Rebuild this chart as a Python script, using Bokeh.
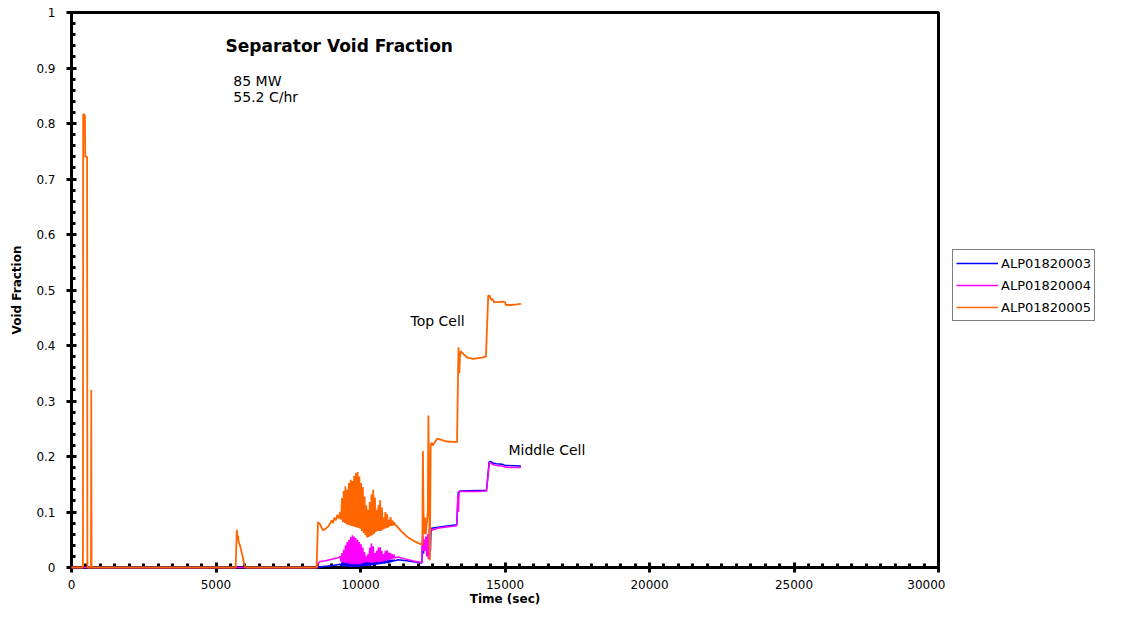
from bokeh.plotting import figure
from bokeh.layouts import row
from bokeh.models import (Range1d, SingleIntervalTicker, NumeralTickFormatter,
                          Legend, LegendItem, Label)
from bokeh.embed import file_html
from bokeh.resources import INLINE

# ---------------- data ----------------
series_names = ["ALP01820003", "ALP01820004", "ALP01820005"]
series_colors = ["#0000FF", "#FF00FF", "#FF6600"]

# shared oscillation time samples (sec)
t_osc = [9300, 9330, 9360, 9390, 9420, 9450, 9480, 9510, 9540, 9570,
         9600, 9630, 9660, 9690, 9720, 9750, 9780, 9810, 9840, 9870,
         9900, 9930, 9960, 9990, 10020, 10050, 10080, 10110, 10140, 10170,
         10200, 10230, 10260, 10290, 10320, 10350, 10380, 10410, 10440, 10470,
         10500, 10530, 10560, 10590, 10620, 10650, 10680, 10710, 10740, 10770,
         10800, 10830, 10860, 10890, 10920, 10950, 10980, 11010, 11040, 11070,
         11100, 11130, 11160, 11190]

# ALP01820005 (top cell)
orange_pre_t = [0, 395, 405, 465, 475, 540, 550, 675, 685, 695, 5680, 5720, 5740,
                5760, 5790, 5830, 5900, 5980, 6020, 8480, 8530, 8600, 8700, 8800,
                8900, 9000, 9050, 9100, 9150, 9200, 9250]
orange_pre_v = [0, 0, 0.817, 0.815, 0.74, 0.74, 0, 0, 0.32, 0, 0, 0.068, 0.05,
                0.058, 0.045, 0.04, 0.025, 0.005, 0, 0, 0.082, 0.078, 0.067, 0.07,
                0.075, 0.085, 0.08, 0.09, 0.085, 0.095, 0.088]
orange_osc = [0.100, 0.086, 0.125, 0.082, 0.138, 0.080, 0.146, 0.078, 0.140, 0.077,
              0.152, 0.076, 0.158, 0.075, 0.156, 0.074, 0.165, 0.073, 0.170, 0.072,
              0.172, 0.071, 0.164, 0.070, 0.152, 0.066, 0.145, 0.062, 0.128, 0.058,
              0.112, 0.054, 0.104, 0.055, 0.118, 0.057, 0.132, 0.058, 0.140, 0.061,
              0.126, 0.064, 0.104, 0.066, 0.112, 0.066, 0.121, 0.066, 0.108, 0.068,
              0.090, 0.070, 0.100, 0.071, 0.096, 0.072, 0.086, 0.074, 0.091, 0.075,
              0.085, 0.076, 0.082, 0.077]
orange_post_t = [11250, 11400, 11600, 11800, 12000, 12140, 12160, 12180, 12200, 12230,
                 12260, 12330, 12350, 12380, 12400, 12430, 12460, 12500, 12650, 12800,
                 13000, 13340, 13390, 13420, 13440, 13470, 13550, 13700, 13900, 14200,
                 14340, 14420, 14470, 14520, 14560, 14620, 14750, 14900, 15000, 15030,
                 15200, 15400, 15550]
orange_post_v = [0.075, 0.066, 0.056, 0.049, 0.044, 0.041, 0.21, 0.10, 0.06, 0.09,
                 0.06, 0.10, 0.274, 0.10, 0.013, 0.22, 0.225, 0.22, 0.232, 0.23,
                 0.227, 0.226, 0.397, 0.35, 0.38, 0.39, 0.385, 0.378, 0.376, 0.378,
                 0.38, 0.49, 0.49, 0.482, 0.484, 0.478, 0.478, 0.479, 0.478, 0.473,
                 0.473, 0.474, 0.475]

# ALP01820004 (middle cell)
magenta_pre_t = [0, 8500, 8550, 8600, 8800, 9000, 9200]
magenta_pre_v = [0, 0, 0.008, 0.011, 0.012, 0.015, 0.017]
magenta_osc = [0.020, 0.010, 0.026, 0.009, 0.032, 0.008, 0.040, 0.008, 0.046, 0.007,
               0.050, 0.007, 0.055, 0.006, 0.058, 0.006, 0.056, 0.006, 0.053, 0.006,
               0.050, 0.006, 0.046, 0.006, 0.042, 0.007, 0.036, 0.008, 0.028, 0.009,
               0.020, 0.010, 0.024, 0.009, 0.036, 0.008, 0.043, 0.008, 0.038, 0.009,
               0.026, 0.010, 0.030, 0.009, 0.036, 0.009, 0.037, 0.010, 0.030, 0.011,
               0.024, 0.012, 0.030, 0.012, 0.031, 0.013, 0.027, 0.014, 0.026, 0.015,
               0.024, 0.016, 0.023, 0.017]
magenta_post_t = [11300, 11500, 11800, 12000, 12120, 12140, 12160, 12180, 12200, 12230,
                  12260, 12290, 12320, 12350, 12380, 12400, 12420, 12450, 12500, 12700,
                  13000, 13330, 13370, 13390, 13410, 13450, 14000, 14360, 14460, 14520,
                  14600, 14700, 14900, 15000, 15200, 15550]
magenta_post_v = [0.019, 0.016, 0.012, 0.010, 0.009, 0.05, 0.06, 0.03, 0.05, 0.03,
                  0.056, 0.02, 0.06, 0.015, 0.07, 0.02, 0.073, 0.066, 0.068, 0.071,
                  0.073, 0.075, 0.13, 0.10, 0.136, 0.137, 0.137, 0.138, 0.189, 0.188,
                  0.185, 0.184, 0.183, 0.181, 0.180, 0.180]

# ALP01820003
blue_pre_t = [0, 8600, 8700, 9000, 9200]
blue_pre_v = [0, 0, 0.002, 0.003, 0.005]
blue_osc = [0.006, 0.002, 0.009, 0.002, 0.011, 0.002, 0.013, 0.002, 0.015, 0.001,
            0.017, 0.001, 0.019, 0.001, 0.020, 0.001, 0.020, 0.001, 0.019, 0.001,
            0.018, 0.001, 0.017, 0.001, 0.016, 0.002, 0.014, 0.002, 0.012, 0.003,
            0.010, 0.003, 0.014, 0.003, 0.020, 0.003, 0.024, 0.004, 0.020, 0.004,
            0.014, 0.005, 0.016, 0.005, 0.019, 0.006, 0.018, 0.006, 0.015, 0.007,
            0.013, 0.007, 0.016, 0.008, 0.016, 0.008, 0.014, 0.009, 0.014, 0.010,
            0.014, 0.011, 0.014, 0.012]
blue_post_t = [11300, 11600, 12000, 12120, 12150, 12180, 12210, 12250, 12300, 12340,
               12380, 12420, 12440, 12500, 13000, 13330, 13380, 13450, 14360, 14450,
               14500, 14600, 14700, 14900, 15000, 15550]
blue_post_v = [0.014, 0.012, 0.009, 0.008, 0.045, 0.025, 0.05, 0.03, 0.055, 0.02,
               0.06, 0.03, 0.07, 0.071, 0.075, 0.077, 0.135, 0.138, 0.139, 0.19,
               0.191, 0.188, 0.187, 0.186, 0.184, 0.183]

x_ticks_interval = 5000
y_ticks_interval = 0.1

# ---------------- main figure ----------------
FONT = "DejaVu Sans"

p = figure(width=945, height=608, output_backend="svg", toolbar_location=None,
           x_range=Range1d(0, 30000), y_range=Range1d(0, 1),
           min_border_left=71, min_border_right=7, min_border_top=12,
           min_border_bottom=41)
p.grid.visible = False
p.background_fill_color = "white"
p.border_fill_color = "white"
p.outline_line_color = "black"
p.outline_line_width = 3

blue_t = blue_pre_t + t_osc + blue_post_t
blue_v = blue_pre_v + blue_osc + blue_post_v
mag_t = magenta_pre_t + t_osc + magenta_post_t
mag_v = magenta_pre_v + magenta_osc + magenta_post_v
ora_t = orange_pre_t + t_osc + orange_post_t
ora_v = orange_pre_v + orange_osc + orange_post_v
all_series = [(blue_t, blue_v), (mag_t, mag_v), (ora_t, ora_v)]
widths = [1.5, 1.5, 1.8]

for (tt, vv), col, lw in zip(all_series, series_colors, widths):
    p.line(tt, vv, line_color=col, line_width=lw, level="overlay")

for ax in (p.xaxis[0], p.yaxis[0]):
    ax.axis_line_width = 3
    ax.axis_line_color = "black"
    ax.major_tick_line_width = 3
    ax.major_tick_line_color = "black"
    ax.major_tick_in = 5
    ax.major_tick_out = 5
    ax.minor_tick_line_width = 3
    ax.minor_tick_line_color = "black"
    ax.minor_tick_in = 4
    ax.minor_tick_out = 0
    ax.major_label_text_font = FONT
    ax.major_label_text_font_size = "12px"
    ax.major_label_text_color = "black"
    ax.axis_label_text_font = FONT
    ax.axis_label_text_font_style = "bold"
    ax.axis_label_text_font_size = "12px"
    ax.axis_label_text_color = "black"

p.xaxis[0].ticker = SingleIntervalTicker(interval=x_ticks_interval, num_minor_ticks=10)
p.yaxis[0].ticker = SingleIntervalTicker(interval=y_ticks_interval, num_minor_ticks=5)
p.xaxis[0].formatter = NumeralTickFormatter(format="0")
p.yaxis[0].formatter = NumeralTickFormatter(format="0.[0]")
p.xaxis[0].axis_label = "Time (sec)"
p.yaxis[0].axis_label = "Void Fraction"
p.xaxis[0].major_label_standoff = 7
p.yaxis[0].major_label_standoff = 11
p.xaxis[0].axis_label_standoff = 0
p.yaxis[0].axis_label_standoff = 9

# annotations
p.add_layout(Label(x=5330, y=0.939, text="Separator Void Fraction", text_font=FONT,
                   text_font_style="bold", text_font_size="17px", text_baseline="middle",
                   text_color="black"))
p.add_layout(Label(x=5600, y=0.876, text="85 MW", text_font=FONT,
                   text_font_size="14px", text_baseline="middle", text_color="black"))
p.add_layout(Label(x=5600, y=0.847, text="55.2 C/hr", text_font=FONT,
                   text_font_size="14px", text_baseline="middle", text_color="black"))
p.add_layout(Label(x=11730, y=0.445, text="Top Cell", text_font=FONT,
                   text_font_size="14px", text_baseline="middle", text_color="black"))
p.add_layout(Label(x=15120, y=0.2126, text="Middle Cell", text_font=FONT,
                   text_font_size="14px", text_baseline="middle", text_color="black"))

# ---------------- legend panel ----------------
# the same series are drawn here outside the visible range; only the legend shows
q = figure(width=163, height=608, output_backend="svg", toolbar_location=None,
           x_axis_location=None, y_axis_location=None,
           x_range=Range1d(-2, -1), y_range=Range1d(-2, -1),
           min_border_left=0, min_border_right=0, min_border_top=12,
           min_border_bottom=41)
q.grid.visible = False
q.outline_line_color = None
q.background_fill_color = "white"
q.border_fill_color = "white"

items = []
for name, col, (tt, vv) in zip(series_names, series_colors, all_series):
    r = q.line(tt, vv, line_color=col, line_width=1.5)
    items.append(LegendItem(label=name, renderers=[r]))

legend = Legend(items=items, location=(7, 246), orientation="vertical")
legend.label_text_font = FONT
legend.label_text_font_size = "13px"
legend.label_text_color = "black"
legend.border_line_color = "black"
legend.border_line_width = 1
legend.background_fill_color = "white"
legend.background_fill_alpha = 1
legend.padding = 3
legend.spacing = 2
legend.label_height = 20
legend.glyph_height = 20
legend.glyph_width = 42
legend.label_standoff = 3
legend.margin = 0
q.add_layout(legend, "center")

layout = row(p, q, spacing=0)
open("out.html", "w").write(file_html(layout, INLINE))
